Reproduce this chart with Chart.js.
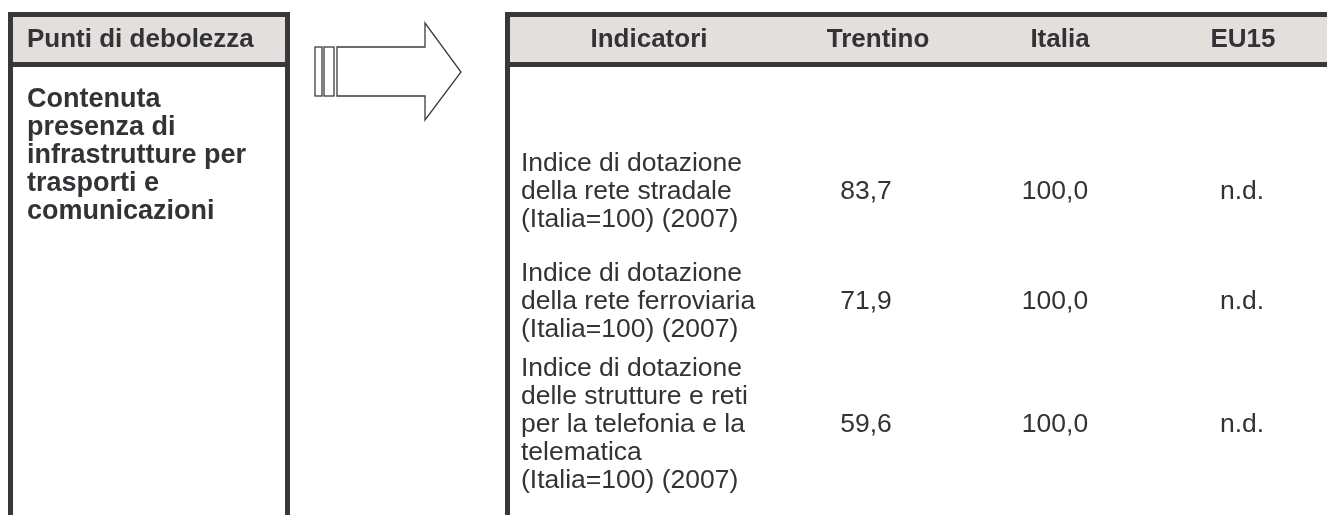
<!DOCTYPE html>
<html>
<head>
<meta charset="utf-8">
<script src="https://cdn.jsdelivr.net/npm/chart.js@4.4.1/dist/chart.umd.min.js"></script>
<style>
  html, body { margin: 0; padding: 0; background: #fff; overflow: hidden; }
  #wrap { position: relative; width: 1327px; height: 515px; }
</style>
</head>
<body>
<div id="wrap"><canvas id="tbl"></canvas></div>
<script>
// ── Dati ──────────────────────────────────────────────────
const leftHeader = 'Punti di debolezza';
const leftText   = ['Contenuta', 'presenza di', 'infrastrutture per', 'trasporti e', 'comunicazioni'];
const columns    = ['Indicatori', 'Trentino', 'Italia', 'EU15'];
const indicators = [
  ['Indice di dotazione', 'della rete stradale', '(Italia=100) (2007)'],
  ['Indice di dotazione', 'della rete ferroviaria', '(Italia=100) (2007)'],
  ['Indice di dotazione', 'delle strutture e reti', 'per la telefonia e la', 'telematica', '(Italia=100) (2007)'],
];
const trentino = ['83,7', '71,9', '59,6'];
const italia   = ['100,0', '100,0', '100,0'];
const eu15     = ['n.d.', 'n.d.', 'n.d.'];

// ── Impaginazione (px della pagina) ───────────────────────
const W = 1327, H = 515;
const FONT = '"Liberation Sans", Arial, Helvetica, sans-serif';
const INK = '#333236', RULE = '#38373b', BAND = '#e3dfdc', ARROW = '#3c3c3e';
const FS_HEAD = 26, FS_LEFT = 27, FS_BODY = 26.5, LINE = 28;
const headerY = 40;
const headerX = [649, 878, 1060, 1243];
const valueX  = [866, 1055, 1242];
const rowY    = [192, 302, 425];
const textX   = { left: 27, right: 521 };
const leftTopY = 100;

const valueCols = [trentino, italia, eu15];

// ── Plugin tabella ────────────────────────────────────────
const tablePlugin = {
  id: 'tabella',
  beforeDatasetsDraw(chart) {
    const { ctx, scales: { x, y } } = chart;
    const px = v => x.getPixelForValue(v);
    const py = v => y.getPixelForValue(v);
    const rect = (x0, y0, x1, y1, c) => {
      ctx.fillStyle = c;
      ctx.fillRect(px(x0), py(y0), px(x1) - px(x0), py(y1) - py(y0));
    };

    ctx.save();
    // riquadro sinistro
    rect(13, 17, 285, 62, BAND);
    rect(8, 12, 290, 17, RULE);
    rect(8, 62, 290, 67, RULE);
    rect(8, 12, 13, H, RULE);
    rect(285, 12, 290, H, RULE);
    // riquadro destro
    rect(510, 17, W, 62, BAND);
    rect(505, 12, W, 17, RULE);
    rect(505, 62, W, 67, RULE);
    rect(505, 12, 510, H, RULE);

    // freccia
    ctx.strokeStyle = ARROW;
    ctx.lineWidth = 1.3;
    ctx.strokeRect(px(315), py(47), px(322) - px(315), py(96) - py(47));
    ctx.strokeRect(px(324), py(47), px(334) - px(324), py(96) - py(47));
    ctx.beginPath();
    [[337, 47], [425, 47], [425, 23], [461, 72], [425, 120], [425, 96], [337, 96]]
      .forEach(([a, b], i) => i ? ctx.lineTo(px(a), py(b)) : ctx.moveTo(px(a), py(b)));
    ctx.closePath();
    ctx.stroke();

    // testi
    ctx.fillStyle = INK;
    ctx.textBaseline = 'middle';
    ctx.textAlign = 'left';
    ctx.font = `bold ${FS_HEAD}px ${FONT}`;
    ctx.fillText(leftHeader, px(textX.left), py(headerY));
    ctx.textAlign = 'center';
    columns.forEach((c, i) => ctx.fillText(c, px(headerX[i]), py(headerY)));

    ctx.textAlign = 'left';
    ctx.font = `bold ${FS_LEFT}px ${FONT}`;
    leftText.forEach((t, i) => ctx.fillText(t, px(textX.left), py(leftTopY + i * LINE)));

    ctx.font = `${FS_BODY}px ${FONT}`;
    indicators.forEach((lines, r) => {
      const top = rowY[r] - (lines.length - 1) / 2 * LINE;
      lines.forEach((t, i) => ctx.fillText(t, px(textX.right), py(top + i * LINE)));
    });
    ctx.restore();
  },
  afterDatasetsDraw(chart) {
    const { ctx } = chart;
    ctx.save();
    ctx.fillStyle = INK;
    ctx.textBaseline = 'middle';
    ctx.textAlign = 'center';
    ctx.font = `${FS_BODY}px ${FONT}`;
    chart.data.datasets.forEach((ds, di) => {
      chart.getDatasetMeta(di).data.forEach((el, i) => {
        ctx.fillText(ds.labels[i], el.x, el.y);
      });
    });
    ctx.restore();
  },
};

new Chart(document.getElementById('tbl'), {
  type: 'scatter',
  data: {
    datasets: valueCols.map((vals, c) => ({
      label: columns[c + 1],
      labels: vals,
      data: vals.map((_, r) => ({ x: valueX[c], y: rowY[r] })),
      pointRadius: 0,
    })),
  },
  options: {
    responsive: true, maintainAspectRatio: false,
    animation: false, events: [],
    layout: { padding: 0 },
    plugins: { legend: { display: false }, tooltip: { enabled: false } },
    scales: {
      x: { type: 'linear', display: false, min: 0, max: W },
      y: { type: 'linear', display: false, min: 0, max: H, reverse: true },
    },
  },
  plugins: [tablePlugin],
});
</script>
</body>
</html>
